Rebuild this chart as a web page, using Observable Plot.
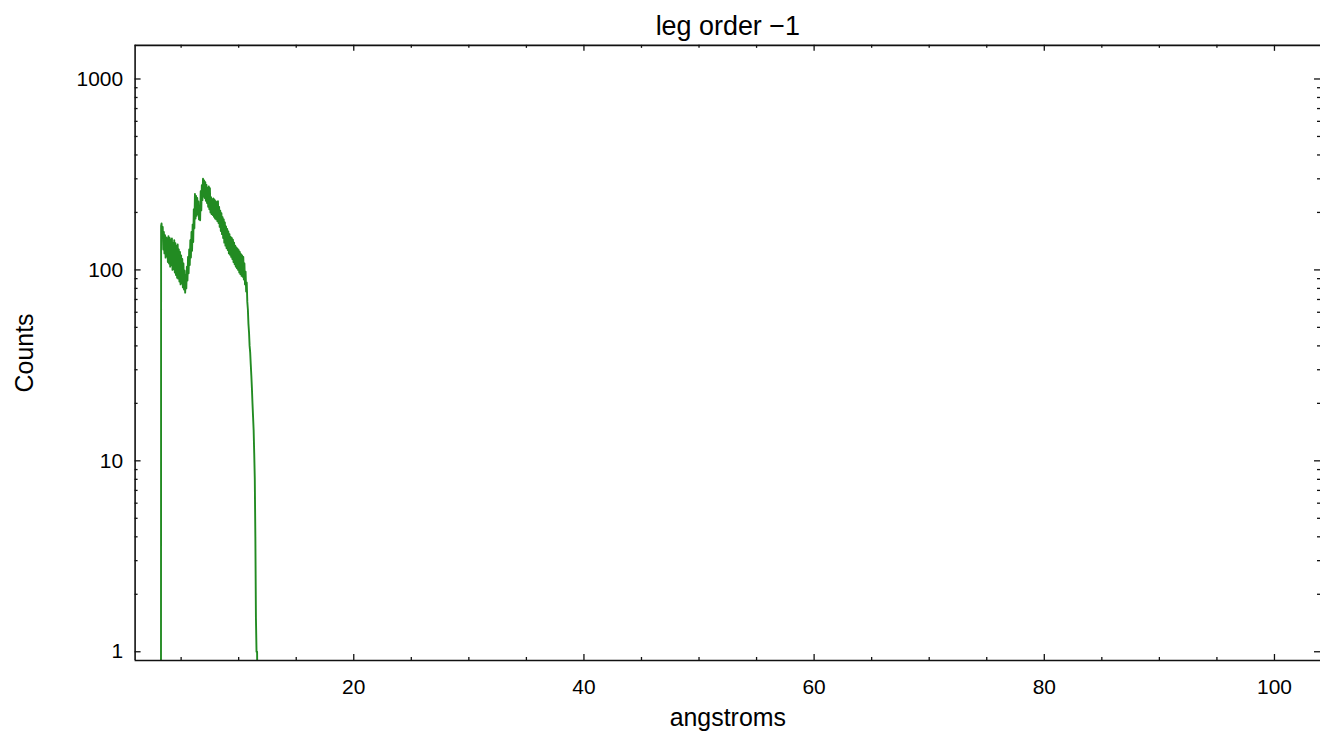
<!DOCTYPE html>
<html>
<head>
<meta charset="utf-8">
<script src="https://cdn.jsdelivr.net/npm/d3@7"></script>
<script src="https://cdn.jsdelivr.net/npm/@observablehq/plot@0.6"></script>
<style>
html, body { margin: 0; padding: 0; background: #fff; overflow: hidden; }
</style>
</head>
<body>
<div id="chart"></div>
<script>
// ---- Data ----
const wavelength = [
  3.25, 3.26, 3.30, 3.35, 3.40, 3.45, 3.50, 3.55, 3.60, 3.65, 3.70, 3.75, 3.80, 3.85, 3.90, 3.95,
  4.00, 4.05, 4.10, 4.15, 4.20, 4.25, 4.30, 4.35, 4.40, 4.45, 4.50, 4.55, 4.60, 4.65, 4.70, 4.75,
  4.80, 4.85, 4.90, 4.95, 5.00, 5.05, 5.10, 5.15, 5.20, 5.25, 5.30, 5.35, 5.40, 5.45, 5.50, 5.55,
  5.60, 5.65, 5.70, 5.75, 5.80, 5.85, 5.90, 5.95, 6.00, 6.05, 6.10, 6.15, 6.20, 6.25, 6.30, 6.35,
  6.40, 6.45, 6.50, 6.55, 6.60, 6.65, 6.70, 6.75, 6.80, 6.85, 6.90, 6.95, 7.00, 7.05, 7.10, 7.15,
  7.20, 7.25, 7.30, 7.35, 7.40, 7.45, 7.50, 7.55, 7.60, 7.65, 7.70, 7.75, 7.80, 7.85, 7.90, 7.95,
  8.00, 8.05, 8.10, 8.15, 8.20, 8.25, 8.30, 8.35, 8.40, 8.45, 8.50, 8.55, 8.60, 8.65, 8.70, 8.75,
  8.80, 8.85, 8.90, 8.95, 9.00, 9.05, 9.10, 9.15, 9.20, 9.25, 9.30, 9.35, 9.40, 9.45, 9.50, 9.55,
  9.60, 9.65, 9.70, 9.75, 9.80, 9.85, 9.90, 9.95, 10.00, 10.05, 10.10, 10.15, 10.20, 10.25, 10.30, 10.35,
  10.40, 10.45, 10.50, 10.55, 10.60, 10.65, 10.70, 10.75, 10.80, 10.85, 10.90, 10.95, 11.00, 11.05, 11.10, 11.15,
  11.20, 11.25, 11.30, 11.35, 11.40, 11.45, 11.50, 11.55, 11.60, 11.65
];
const counts = [
  0.5, 170, 175, 150, 168, 128, 158, 122, 152, 116, 148, 118, 146, 110, 150, 108,
  147, 104, 144, 106, 146, 100, 138, 101, 143, 97, 138, 94, 133, 91, 136, 90,
  128, 87, 124, 84, 119, 85, 114, 81, 108, 79, 99, 76, 94, 80, 104, 88,
  117, 96, 128, 106, 143, 116, 158, 126, 173, 140, 208, 165, 250, 186, 244, 192,
  238, 196, 228, 184, 214, 182, 258, 205, 278, 232, 300, 242, 294, 238, 288, 230,
  279, 224, 268, 214, 274, 208, 268, 200, 240, 196, 234, 194, 237, 190, 233, 186,
  229, 184, 226, 180, 229, 176, 214, 168, 204, 160, 198, 154, 189, 147, 184, 139,
  177, 134, 169, 130, 164, 127, 159, 122, 154, 120, 149, 117, 147, 114, 144, 110,
  139, 107, 134, 104, 131, 102, 129, 100, 127, 97, 124, 95, 121, 93, 119, 92,
  117, 89, 108, 84, 98, 77, 86, 68, 62, 52, 47, 40, 37, 32, 28, 24,
  20, 17, 14.5, 11, 8, 4, 1.5, 1, 1, 0.5
];

const xMajorTicks = [20, 40, 60, 80, 100];
const xMinorTicks = [5, 10, 15, 25, 30, 35, 45, 50, 55, 65, 70, 75, 85, 90, 95];
const yMajorTicks = [1, 10, 100, 1000];
const yMinorTicks = [2, 3, 4, 5, 6, 7, 8, 9, 20, 30, 40, 50, 60, 70, 80, 90, 200, 300, 400, 500, 600, 700, 800, 900];
const xDomain = [1, 104];
const yDomain = [0.9, 1500];

const titleText = "leg order \u22121";
const xLabelText = "angstroms";
const yLabelText = "Counts";

// ---- Layout ----
const W = 1326, H = 738;
const mL = 135, mR = 2, mT = 45, mB = 76;
const pw = W - mL - mR, ph = H - mT - mB;
const majorLen = 6, minorLen = 3;
const axisStroke = "#111", axisWidth = 1.6;

const data = wavelength.map((w, i) => ({w, c: counts[i]}));

const chart = Plot.plot({
  width: W,
  height: H,
  marginLeft: mL,
  marginRight: mR,
  marginTop: mT,
  marginBottom: mB,
  style: {fontFamily: "'Liberation Sans', Arial, Helvetica, sans-serif", background: "#fff", color: "#000"},
  x: {domain: xDomain},
  y: {type: "log", domain: yDomain},
  marks: [
    Plot.line(data, {x: "w", y: "c", stroke: "#228b22", strokeWidth: 1.9, clip: true}),
    // tick labels
    Plot.axisX(xMajorTicks, {anchor: "bottom", tickSize: 0, tickPadding: 19, fontSize: 21, tickFormat: d => String(d), label: null}),
    Plot.axisY(yMajorTicks, {anchor: "left", tickSize: 0, tickPadding: 12, fontSize: 21, tickFormat: d => String(d), label: null}),
    // frame (left, top, bottom)
    Plot.ruleX([xDomain[0]], {stroke: axisStroke, strokeWidth: axisWidth}),
    Plot.ruleY([yDomain[0]], {stroke: axisStroke, strokeWidth: axisWidth}),
    Plot.ruleY([yDomain[1]], {stroke: axisStroke, strokeWidth: axisWidth}),
    // inward ticks: bottom & top
    Plot.ruleX(xMajorTicks, {insetTop: ph - majorLen, stroke: axisStroke, strokeWidth: 1.3}),
    Plot.ruleX(xMinorTicks, {insetTop: ph - minorLen, stroke: axisStroke, strokeWidth: 1.3}),
    Plot.ruleX(xMajorTicks, {insetBottom: ph - majorLen, stroke: axisStroke, strokeWidth: 1.3}),
    Plot.ruleX(xMinorTicks, {insetBottom: ph - minorLen, stroke: axisStroke, strokeWidth: 1.3}),
    // inward ticks: left & right
    Plot.ruleY(yMajorTicks, {insetRight: pw - majorLen, stroke: axisStroke, strokeWidth: 1.3}),
    Plot.ruleY(yMinorTicks, {insetRight: pw - minorLen, stroke: axisStroke, strokeWidth: 1.3}),
    Plot.ruleY(yMajorTicks, {insetLeft: pw - majorLen, stroke: axisStroke, strokeWidth: 1.3}),
    Plot.ruleY(yMinorTicks, {insetLeft: pw - minorLen, stroke: axisStroke, strokeWidth: 1.3}),
    // title and axis labels
    Plot.text([titleText], {text: d => d, frameAnchor: "top", dy: -19, fontSize: 27, lineAnchor: "middle", textAnchor: "middle"}),
    Plot.text([xLabelText], {text: d => d, frameAnchor: "bottom", dy: 58, fontSize: 25, lineAnchor: "middle", textAnchor: "middle"}),
    Plot.text([yLabelText], {text: d => d, frameAnchor: "left", dx: -110, rotate: -90, fontSize: 25, lineAnchor: "middle", textAnchor: "middle"})
  ]
});
document.getElementById("chart").appendChild(chart);
</script>
</body>
</html>
